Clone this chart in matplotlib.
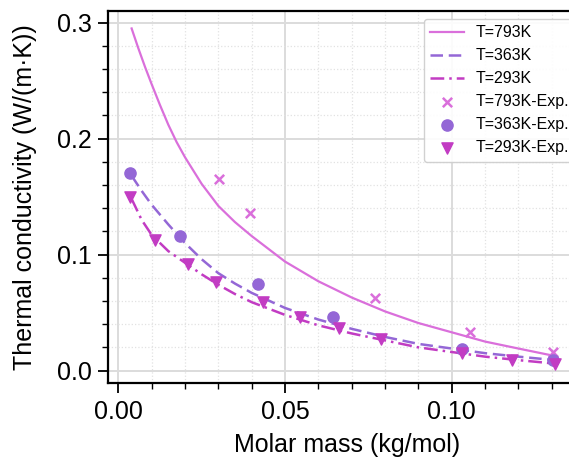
import matplotlib
matplotlib.use('Agg')
import matplotlib.pyplot as plt
from matplotlib.ticker import MultipleLocator

plt.rcParams['font.family'] = ['Liberation Sans', 'DejaVu Sans']

# model curves
m_793 = [0.004, 0.006, 0.008, 0.010, 0.0125, 0.015, 0.0175, 0.020, 0.025, 0.030,
         0.035, 0.040, 0.050, 0.060, 0.070, 0.080, 0.090, 0.100, 0.110, 0.120, 0.131]
k_793 = [0.295, 0.278, 0.262, 0.247, 0.229, 0.212, 0.197, 0.184, 0.161, 0.142,
         0.128, 0.116, 0.094, 0.077, 0.063, 0.051, 0.041, 0.033, 0.025, 0.019, 0.0125]

m_363 = [0.004, 0.007, 0.010, 0.015, 0.020, 0.025, 0.030, 0.035, 0.040, 0.050,
         0.060, 0.070, 0.080, 0.090, 0.100, 0.110, 0.120, 0.131]
k_363 = [0.168, 0.155, 0.143, 0.126, 0.110, 0.096, 0.084, 0.075, 0.067, 0.054,
         0.044, 0.036, 0.029, 0.023, 0.019, 0.015, 0.012, 0.009]

m_293 = [0.004, 0.007, 0.010, 0.015, 0.020, 0.025, 0.030, 0.035, 0.040, 0.050,
         0.060, 0.070, 0.080, 0.090, 0.100, 0.110, 0.120, 0.131]
k_293 = [0.148, 0.130, 0.117, 0.103, 0.093, 0.083, 0.074, 0.066, 0.059, 0.048,
         0.039, 0.032, 0.026, 0.020, 0.016, 0.012, 0.009, 0.006]

# experimental points
exp_m_793 = [0.0301, 0.0394, 0.0771, 0.1055, 0.1304]
exp_k_793 = [0.165, 0.136, 0.063, 0.033, 0.016]

exp_m_363 = [0.0036, 0.0184, 0.0418, 0.0645, 0.1031, 0.1304]
exp_k_363 = [0.170, 0.116, 0.075, 0.046, 0.019, 0.009]

exp_m_293 = [0.0035, 0.0110, 0.0209, 0.0294, 0.0433, 0.0545, 0.0662, 0.0787,
             0.1030, 0.1180, 0.1310]
exp_k_293 = [0.150, 0.113, 0.092, 0.076, 0.059, 0.046, 0.037, 0.027,
             0.015, 0.009, 0.006]

c793 = '#da6fdb'
c363 = '#9467d6'
c293 = '#c23cc3'

fig = plt.figure(figsize=(5.69, 4.61), dpi=100)
ax = fig.add_axes([0.1903, 0.169, 0.838, 0.807])

ax.plot(m_793, k_793, color=c793, lw=1.6, ls='-', label='T=793K')
ax.plot(m_363, k_363, color=c363, lw=1.8, ls=(0, (5, 2.3)), label='T=363K')
ax.plot(m_293, k_293, color=c293, lw=1.8, ls=(0, (5.5, 2, 1, 2)), label='T=293K')

ax.scatter(exp_m_793, exp_k_793, marker='x', color=c793, s=45, lw=1.8, label='T=793K-Exp.', zorder=3)
ax.scatter(exp_m_363, exp_k_363, marker='o', color=c363, s=65, label='T=363K-Exp.', zorder=3)
ax.scatter(exp_m_293, exp_k_293, marker='v', color=c293, s=65, label='T=293K-Exp.', zorder=3)

ax.set_xlim(-0.003, 0.14)
ax.set_ylim(-0.0108, 0.310)

ax.xaxis.set_major_locator(MultipleLocator(0.05))
ax.xaxis.set_minor_locator(MultipleLocator(0.01))
ax.yaxis.set_major_locator(MultipleLocator(0.1))
ax.yaxis.set_minor_locator(MultipleLocator(0.02))
ax.xaxis.set_major_formatter(plt.FormatStrFormatter('%.2f'))
ax.yaxis.set_major_formatter(plt.FormatStrFormatter('%.1f'))

ax.grid(which='major', color='#dcdcdc', lw=1.4, ls='-')
ax.grid(which='minor', color='#e2e2e2', lw=0.9, ls=':')
ax.set_axisbelow(True)

for s in ax.spines.values():
    s.set_linewidth(1.6)
ax.tick_params(which='major', direction='out', length=7, width=1.3, labelsize=18, pad=5)
ax.tick_params(which='minor', direction='out', length=4, width=1.0)

ax.set_xlabel('Molar mass (kg/mol)', fontsize=18)
ax.set_ylabel('Thermal conductivity (W/(m·K))', fontsize=18)
ax.xaxis.set_label_coords(0.5, -0.135)
ax.yaxis.set_label_coords(-0.15, 0.5)

leg = ax.legend(loc='upper left', bbox_to_anchor=(424 / 569, 1 - 19 / 461),
                bbox_transform=fig.transFigure, borderaxespad=0,
                fontsize=11.5, handlelength=2.1, handletextpad=0.75, labelspacing=0.5,
                framealpha=0.9, edgecolor='#cccccc')

fig.savefig('out.png', dpi=100)
